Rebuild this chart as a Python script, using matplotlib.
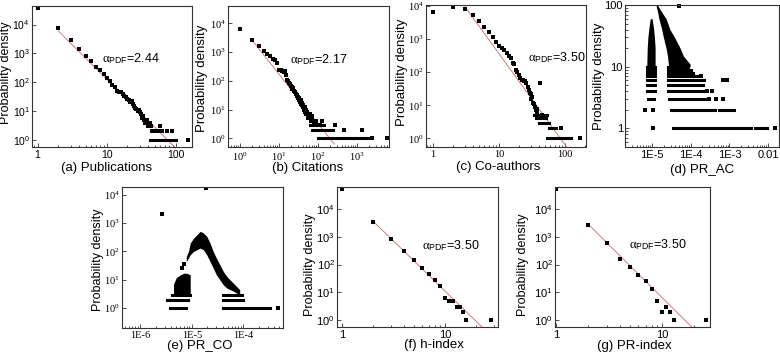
import numpy as np
import matplotlib
matplotlib.use('Agg')
import matplotlib.pyplot as plt
from matplotlib import font_manager as fm
from matplotlib.ticker import LogLocator, NullFormatter, NullLocator

names = {f.name for f in fm.fontManager.ttflist}
SANS_N = 'Liberation Sans Narrow' if 'Liberation Sans Narrow' in names else 'Liberation Sans'
SANS = 'Liberation Sans'
SERIF = 'Liberation Serif'

plt.rcParams['mathtext.fontset'] = 'custom'
plt.rcParams['mathtext.rm'] = SERIF
plt.rcParams['mathtext.sf'] = SANS_N
plt.rcParams['mathtext.it'] = SERIF + ':italic'

# (a) Publications
pub_x = [1, 2, 3, 4, 5, 6, 7, 8, 9, 10, 11, 12, 13, 14, 15, 16, 17, 18, 19, 20,
         21, 22, 23, 24, 25, 26, 27, 28, 29, 30, 31, 32, 33, 34, 35, 36, 37, 38,
         39, 40, 42, 44, 46, 48, 50, 52, 55, 58, 60, 64, 74, 87, 150]
pub_y = [39000, 7400, 2900, 1450, 800, 540, 340, 260, 200, 145, 110, 78, 66, 50,
         47, 45, 40, 34, 30, 26, 24, 21, 22, 17, 15, 13, 12, 10, 11, 9, 8, 7, 6,
         7, 5, 4, 4, 5, 4, 3, 4, 3, 2, 2, 2, 2, 2, 2, 3, 2, 2, 2, 1]
pub_band_lvl = [1]
pub_band_x0 = [43]
pub_band_x1 = [100]
pub_fit_x = [2, 95]
pub_fit_y = [6000, 0.59]

# (b) Citations
cit_x = list(range(1, 51)) + [52, 54, 55, 56, 58, 60, 62, 64, 66, 68, 70, 72, 75,
                              78, 82, 85, 90, 95, 110, 130, 280, 450, 1350]
cit_y = [6200, 2600, 1600, 1080, 870, 720, 580, 510, 420, 245,
         235, 220, 210, 215, 165, 110, 95, 83, 75, 68,
         60, 52, 55, 45, 40, 42, 35, 30, 33, 27,
         25, 22, 26, 20, 18, 21, 16, 14, 17, 13,
         12, 15, 10, 11, 9, 12, 8, 10, 7, 9,
         8, 6, 7, 5, 6, 5, 7, 4, 5, 6, 4, 5, 4, 3, 4, 3, 4, 3, 3, 4, 3, 2, 2]
cit_band_lvl = [3, 2, 1]
cit_band_x0 = [62, 70, 100]
cit_band_x1 = [140, 240, 2000]
cit_far_x = [2400, 5700]
cit_far_y = [1, 1]
cit_fit_x = [1.9, 260]
cit_fit_y = [2900, 0.63]

# (c) Co-authors
coa_x = list(range(1, 39)) + [42, 45, 50, 86, 170]
coa_y = [6800, 9100, 7900, 5300, 3600, 2400, 1700, 1200, 850, 640,
         560, 470, 390, 300, 265, 190, 180, 120, 105, 80,
         65, 60, 57, 56, 55, 47, 35, 30, 23, 22,
         16, 18, 12, 11, 9, 7, 8, 6, 47, 5, 4, 2, 1]
coa_band_lvl = [5, 4, 3, 2, 1]
coa_band_x0 = [34, 36, 40, 57, 54]
coa_band_x1 = [54, 51, 57, 73, 122]
coa_fit_x = [3.05, 105]
coa_fit_y = [9500, 0.56]

# (d) PR_AC
ac_row_lvl = [1, 1, 2, 2, 3, 3, 4, 4, 5, 5, 6, 6, 7, 7, 8, 8, 9, 9, 10, 10]
ac_row_x0 = [3.55e-5, 4.6e-3, 3.0e-5, 5.5e-4, 7.8e-6, 2.8e-5, 7.3e-6, 2.64e-5,
             7.3e-6, 2.64e-5, 7.3e-6, 2.64e-5, 7.3e-6, 2.64e-5, 7.3e-6, 2.64e-5,
             7.3e-6, 2.64e-5, 7.3e-6, 2.64e-5]
ac_row_x1 = [3.7e-3, 9.1e-3, 4.2e-4, 1.3e-3, 1.1e-5, 2.5e-4, 1.2e-5, 2.34e-4,
             1.2e-5, 2.1e-4, 1.2e-5, 2.2e-4, 1.2e-5, 1.57e-4, 1.2e-5, 1.17e-4,
             1.2e-5, 1.0e-4, 1.2e-5, 8.7e-5]
ac_pts_x = [1.08e-5, 6.6e-6, 1.04e-5, 3.0e-4, 4.5e-4, 6.7e-4, 2.7e-4, 3.5e-4,
            7.0e-4, 8.8e-4, 1.8e-4, 1.5e-2, 5.0e-5]
ac_pts_y = [1, 2, 2, 3, 3, 3, 4, 4, 6, 6, 7, 1, 95]
ac_c1_y = [10, 20, 30, 40, 50, 60]
ac_c1_lo = [7.3e-6, 7.5e-6, 7.8e-6, 8.2e-6, 8.6e-6, 9.0e-6]
ac_c1_hi = [1.2e-5, 1.2e-5, 1.15e-5, 1.1e-5, 1.05e-5, 1.0e-5]
ac_c2_y = [10, 11, 15, 20, 30, 40, 60, 80, 98]
ac_c2_lo = [2.64e-5, 2.64e-5, 2.5e-5, 2.3e-5, 1.96e-5, 1.78e-5, 1.5e-5, 1.37e-5, 1.27e-5]
ac_c2_hi = [9.6e-5, 9.6e-5, 6.4e-5, 5.3e-5, 3.8e-5, 2.9e-5, 2.3e-5, 1.7e-5, 1.4e-5]

# (e) PR_CO
co_row_lvl = [1, 1, 2, 2, 3, 3]
co_row_x0 = [3.8e-6, 4.1e-5, 3.3e-6, 4.1e-5, 4.1e-6, 4.1e-5]
co_row_x1 = [7.8e-6, 3.3e-4, 8.6e-6, 1.0e-4, 9.3e-6, 9.3e-5]
co_pts_x = [2.6e-6, 1.87e-5, 4.8e-4, 6.4e-6, 7.1e-6]
co_pts_y = [2100, 17200, 1, 26, 35]
co_blk_x = [4.4e-6, 5.0e-6, 6.0e-6, 7.0e-6, 8.0e-6, 9.3e-6]
co_blk_lo = [3, 3, 3, 3, 3, 3]
co_blk_hi = [7, 12, 15, 17, 17, 15]
co_hump_x = [7.8e-6, 8.6e-6, 9.3e-6, 1.08e-5, 1.25e-5, 1.45e-5, 1.68e-5, 1.95e-5,
             2.26e-5, 2.6e-5, 3.0e-5, 3.5e-5, 4.1e-5, 4.8e-5, 5.5e-5, 6.4e-5,
             7.4e-5, 8.5e-5]
co_hump_lo = [44, 58, 76, 100, 114, 131, 114, 76, 44, 26, 15, 10, 6.6, 5.1, 4.5,
              4.0, 3.4, 3.0]
co_hump_hi = [66, 100, 196, 295, 385, 510, 445, 340, 196, 100, 58, 34, 19.5, 13,
              10, 7.6, 5.8, 4.5]

# (f) h-index
h_x = [1, 2, 3, 4, 5, 6, 7, 8, 9, 10, 11, 12, 13, 14, 15, 16, 28]
h_y = [53000, 3550, 850, 310, 145, 76, 46, 28, 17, 6, 5, 5, 3, 3, 2, 1, 1]
h_fit_x = [1.95, 22.9]
h_fit_y = [4070, 0.57]

# (g) PR-index
pr_x = [1, 2, 3, 4, 5, 6, 7, 8, 9, 10, 11, 12, 13, 26]
pr_y = [53000, 2700, 590, 155, 85, 43, 26, 13, 5, 2, 3, 2, 1, 1]
pr_fit_x = [2, 19]
pr_fit_y = [2950, 0.57]

W, H = 780, 356
fig = plt.figure(figsize=(W / 100, H / 100), dpi=100)
MS = 2.4
FIT = '#d9777a'


def make_ax(l, t, r, b, xlim, ylim):
    ax = fig.add_axes([l / W, 1 - b / H, (r - l) / W, (b - t) / H])
    ax.set_xscale('log')
    ax.set_yscale('log')
    for s in ax.spines.values():
        s.set_linewidth(0.8)
        s.set_color('#333333')
    ax.tick_params(which='both', direction='in', width=0.6, color='#333333', pad=2.5)
    ax.tick_params(axis='y', which='both', pad=1.5)
    ax.tick_params(which='major', length=3)
    ax.tick_params(which='minor', length=1.8)
    ax.xaxis.set_minor_locator(LogLocator(10, subs=np.arange(2, 10), numticks=40))
    ax.xaxis.set_minor_formatter(NullFormatter())
    ax.yaxis.set_minor_locator(NullLocator())
    ax.set_xlim(*xlim)
    ax.set_ylim(*ylim)
    return ax


def ticks(ax, xt, xl, yt, yl, fam, size):
    ax.set_xticks(xt)
    ax.set_xticklabels(xl, family=fam, fontsize=size)
    ax.set_yticks(yt)
    ax.set_yticklabels(yl, family=fam, fontsize=size)
    ax.xaxis.set_minor_formatter(NullFormatter())
    ax.yaxis.set_minor_locator(NullLocator())


def pw(f, ks):
    return [r'$\math%s{10^{%d}}$' % (f, k) for k in ks]


def bands(ax, lvl, x0, x1):
    for l, a, b in zip(lvl, x0, x1):
        ax.plot([a, b], [l, l], color='k', lw=2.2, solid_capstyle='projecting')


def labels(text, cx, cy, yx, yy, lsize):
    fig.text(cx / W, 1 - cy / H, text, family=SANS_N, fontsize=9.5, ha='center', va='center')
    fig.text(yx / W, 1 - yy / H, 'Probability density', family=SANS, fontsize=lsize,
             rotation=90, ha='center', va='center')


def alpha(ax, fx, fy, val):
    ax.text(fx, fy, r'$\mathrm{\alpha}_{\mathsf{PDF}}$=' + val, transform=ax.transAxes,
            family=SANS_N, fontsize=9, ha='left', va='center')


dec = [0, 1, 2, 3, 4]
ydec = [1, 10, 100, 1000, 10000]

# (a)
ax = make_ax(32, 6, 192, 147, (0.83, 172), (0.57, 44000))
ax.plot(pub_fit_x, pub_fit_y, color=FIT, lw=0.7)
bands(ax, pub_band_lvl, pub_band_x0, pub_band_x1)
ax.plot(pub_x, pub_y, 's', ms=MS, color='k', mew=0)
ticks(ax, [1, 10, 100], ['1', '10', '100'], ydec, pw('sf', dec), SANS_N, 7.5)
alpha(ax, 0.44, 0.63, '2.44')
labels('(a) Publications', 107, 168, 6, 73, 9)

# (b)
ax = make_ax(228, 6, 389, 147, (0.49, 6600), (0.5, 40000))
ax.plot(cit_fit_x, cit_fit_y, color=FIT, lw=0.7)
bands(ax, cit_band_lvl, cit_band_x0, cit_band_x1)
ax.plot(cit_x, cit_y, 's', ms=MS, color='k', mew=0)
ax.plot(cit_far_x, cit_far_y, 's', ms=MS, color='k', mew=0)
ticks(ax, [1, 10, 100, 1000], pw('rm', [0, 1, 2, 3]), ydec, pw('rm', dec), SERIF, 7.5)
alpha(ax, 0.385, 0.62, '2.17')
labels('(b) Citations', 308, 168, 202, 78, 9.5)

# (c)
ax = make_ax(426, 5, 586, 147, (0.78, 208), (0.55, 10800))
ax.plot(coa_fit_x, coa_fit_y, color=FIT, lw=0.7)
bands(ax, coa_band_lvl, coa_band_x0, coa_band_x1)
ax.plot(coa_x, coa_y, 's', ms=MS, color='k', mew=0)
ticks(ax, [1, 10, 100], ['1', '10', '100'], ydec, pw('rm', dec), SERIF, 7.5)
alpha(ax, 0.635, 0.63, '3.50')
labels('(c) Co-authors', 498, 167, 402, 72, 9.5)

# (d)
ax = make_ax(625, 5, 779, 147, (2.0e-6, 0.019), (0.5, 100))
ax.fill_betweenx(ac_c1_y, ac_c1_lo, ac_c1_hi, color='k', lw=0)
ax.fill_betweenx(ac_c2_y, ac_c2_lo, ac_c2_hi, color='k', lw=0)
bands(ax, ac_row_lvl, ac_row_x0, ac_row_x1)
ax.plot(ac_pts_x, ac_pts_y, 's', ms=MS, color='k', mew=0, clip_on=False)
ticks(ax, [1e-5, 1e-4, 1e-3, 1e-2], ['1E-5', '1E-4', '1E-3', '0.01'],
      [1, 10, 100], ['1', '10', '100'], SANS_N, 8)
ax.yaxis.set_minor_locator(LogLocator(10, subs=np.arange(2, 10), numticks=40))
ax.yaxis.set_minor_formatter(NullFormatter())
labels('(d) PR_AC', 702, 170, 599, 76, 9.5)

# (e)
ax = make_ax(122, 187, 283, 328, (4.4e-7, 5.9e-4), (0.2, 18600))
ax.fill_between(co_blk_x, co_blk_lo, co_blk_hi, color='k', lw=0)
ax.fill_between(co_hump_x, co_hump_lo, co_hump_hi, color='k', lw=0)
bands(ax, co_row_lvl, co_row_x0, co_row_x1)
ax.plot(co_pts_x, co_pts_y, 's', ms=MS, color='k', mew=0)
ticks(ax, [1e-6, 1e-5, 1e-4], ['1E-6', '1E-5', '1E-4'], ydec, pw('rm', dec), SERIF, 7.5)
labels('(e) PR_CO', 200, 346, 98, 260, 9)

# (f)
ax = make_ax(337, 187, 498, 327, (0.894, 32.9), (0.56, 63000))
ax.plot(h_fit_x, h_fit_y, color=FIT, lw=0.7)
ax.plot(h_x, h_y, 's', ms=MS, color='k', mew=0)
ticks(ax, [1, 10], ['1', '10'], ydec, pw('sf', dec), SANS_N, 8)
alpha(ax, 0.53, 0.58, '3.50')
labels('(f) h-index', 434, 345, 310, 265, 9)

# (g)
ax = make_ax(555, 187, 710, 327, (0.98, 28.4), (0.56, 63000))
ax.plot(pr_fit_x, pr_fit_y, color=FIT, lw=0.7)
ax.plot(pr_x, pr_y, 's', ms=MS, color='k', mew=0)
ticks(ax, [1, 10], ['1', '10'], ydec, pw('sf', dec), SANS_N, 8)
alpha(ax, 0.48, 0.59, '3.50')
labels('(g) PR-index', 634, 346, 523, 265, 9)

fig.savefig('out.png', dpi=100)
